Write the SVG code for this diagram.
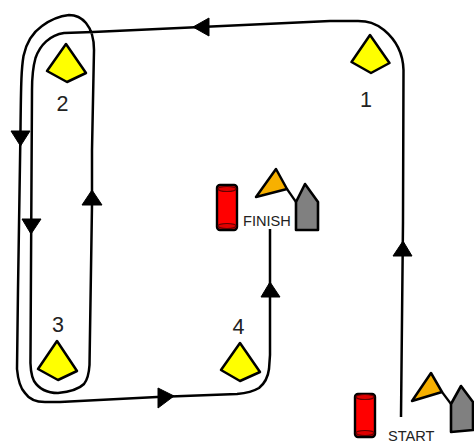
<svg xmlns="http://www.w3.org/2000/svg" width="474" height="444" viewBox="0 0 474 444">
<style>
.course{fill:none;stroke:#000;stroke-width:2.5;stroke-linejoin:round;stroke-linecap:butt}
.head{fill:#000;stroke:#000;stroke-width:1}
.buoy{fill:#ffff00;stroke:#000;stroke-width:2.5;stroke-linejoin:round}
.flag{fill:#f7b000;stroke:#000;stroke-width:2.5;stroke-linejoin:round}
.boat{fill:#808080;stroke:#000;stroke-width:2.6;stroke-linejoin:round}
.pole{fill:none;stroke:#000;stroke-width:2.2}
.can{fill:#ff0000;stroke:#000;stroke-width:2.4}
.canl{fill:#e00000;stroke:#600;stroke-width:1.2}
text{font-family:"Liberation Sans",Arial,sans-serif;fill:#222}
.num{font-size:21.500px;text-anchor:middle}
.lab{font-size:14.600px}
</style>
<rect width="474" height="444" fill="#fff"/>
<g id="connectors">
<path class="course" d="M401 417 L403 222 L403.500 70 C403 52 396 40 384 30 C375 23 368 21 358 21 L330 21 L93 32 L64 33 C50 35 40 45 35.500 58 C33 67 32 75 32 90 L30.500 355 C30 367 31 375 34 381 C39 389 48 393 58 393 C68 392 78 390 84 384 C88 379 89 373 89.500 365 L92 205 L92 150 L94 50 C94 38 91 29 86 23 C81 17 75 15 69 15 C60 16 50 20 42 26 C32 33 26 44 23.500 56 C21.500 68 21 80 20.500 130 L18 289 L17 369 C18 380 20 388 25 393 C29 399 36 402 45 402 L60 402 L157 397 L237 394 C247 393 254 391 259 388 C264 384 268 377 269 369 L270 355 L270 229"/>
<polygon class="head" points="193,27 209,18 209,36"/>
<polygon class="head" points="11,131 30,131 20.500,146"/>
<polygon class="head" points="22,219 41,219 31,234"/>
<polygon class="head" points="92,190 82,205 102,205"/>
<polygon class="head" points="174,396 158,388 158,408"/>
<polygon class="head" points="270,282 261,297 280,297"/>
<polygon class="head" points="403,241 393,256 412,256"/>
</g>
<g id="buoy-1"><polygon class="buoy" points="370,35 389.500,63 371,73 351.500,62"/><text class="num" x="366" y="107">1</text></g>
<g id="buoy-2"><polygon class="buoy" points="66,44 86,73 67,82 47,71"/><text class="num" x="62.500" y="111">2</text></g>
<g id="buoy-3"><polygon class="buoy" points="57,341 77,371 58,380 38,369"/><text class="num" x="58" y="332">3</text></g>
<g id="buoy-4"><polygon class="buoy" points="240,343 260,372 240,381 221,370"/><text class="num" x="238.500" y="334">4</text></g>
<g id="finish">
<rect class="can" x="217" y="185" width="20" height="45" rx="3"/>
<ellipse class="canl" cx="227" cy="189" rx="9" ry="2.500"/><ellipse class="canl" cx="227" cy="226" rx="9" ry="2.500"/>
<polygon class="flag" points="276,169 287,189 256,197"/>
<path class="pole" d="M287 189 L296 202"/>
<polygon class="boat" points="296,202 305,184 318,202 318,230 296,230"/>
<text class="lab" x="243" y="226">FINISH</text>
</g>
<g id="start">
<rect class="can" x="355" y="394" width="20" height="43" rx="3"/>
<ellipse class="canl" cx="365" cy="397" rx="9" ry="2.500"/><ellipse class="canl" cx="365" cy="433" rx="9" ry="2.500"/>
<polygon class="flag" points="431,373 442,392 412,401"/>
<path class="pole" d="M442 392 L451 404"/>
<polygon class="boat" points="451,404 461,386 473,402 473,430 451,432"/>
<text class="lab" x="388" y="440.500">START</text>
</g>
</svg>
